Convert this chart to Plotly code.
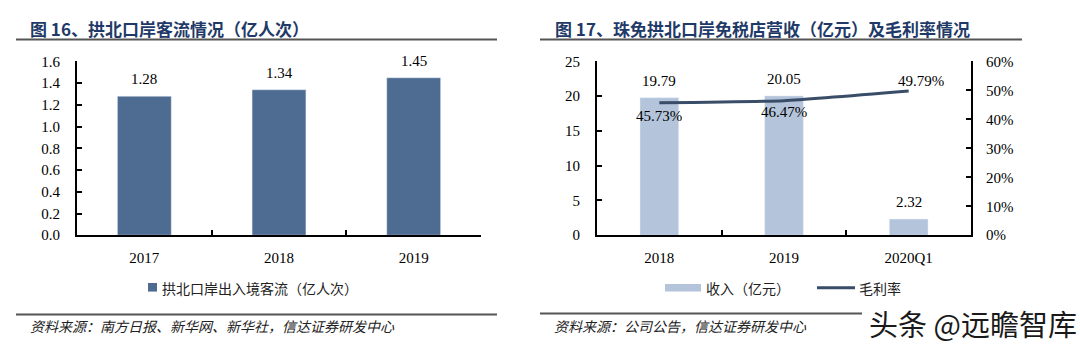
import plotly.graph_objects as go

# ---------------- data ----------------
left_categories = ["2017", "2018", "2019"]
left_values = [1.28, 1.34, 1.45]
left_series_name = "拱北口岸出入境客流（亿人次）"

right_categories = ["2018", "2019", "2020Q1"]
revenue_values = [19.79, 20.05, 2.32]
margin_values = [0.4573, 0.4647, 0.4979]
revenue_name = "收入（亿元）"
margin_name = "毛利率"

left_title = "图 16、拱北口岸客流情况（亿人次）"
right_title = "图 17、珠免拱北口岸免税店营收（亿元）及毛利率情况"
left_source = "资料来源：南方日报、新华网、新华社，信达证券研发中心"
right_source = "资料来源：公司公告，信达证券研发中心"
watermark = "头条 @远瞻智库"

# ---------------- style ----------------
W, H = 1080, 354
def px_x(x):
    return x / W
def px_y(y):
    return (H - y) / H

SERIF = "Liberation Serif, Times New Roman, serif"
CJK = "Noto Sans CJK SC, sans-serif"
TITLE_COLOR = "#1f3a68"
LEFT_BAR = "#4e6b91"
RIGHT_BAR = "#b3c4db"
LINE_COLOR = "#3a4d68"

fig = go.Figure()

fig.add_trace(go.Bar(
    x=left_categories, y=left_values, name=left_series_name,
    marker=dict(color=LEFT_BAR), width=0.40,
    xaxis="x", yaxis="y", showlegend=False,
))
fig.add_trace(go.Bar(
    x=right_categories, y=revenue_values, name=revenue_name,
    marker=dict(color=RIGHT_BAR), width=0.31,
    xaxis="x2", yaxis="y2", showlegend=False,
))
fig.add_trace(go.Scatter(
    x=right_categories, y=margin_values, name=margin_name,
    mode="lines", line=dict(color=LINE_COLOR, width=3, shape="spline", smoothing=0.5),
    xaxis="x2", yaxis="y3", showlegend=False,
))

annotations = []
# bar value labels (left) -- category index positions
for i, v in enumerate(left_values):
    annotations.append(dict(x=i, y=v, xref="x", yref="y", text=f"{v:.2f}",
                            showarrow=False, yshift=17, yanchor="middle",
                            font=dict(family=SERIF, size=15, color="black")))
# bar value labels (right)
for i, v in enumerate(revenue_values):
    annotations.append(dict(x=i, y=v, xref="x2", yref="y2", text=f"{v:.2f}",
                            showarrow=False, yshift=17, yanchor="middle",
                            font=dict(family=SERIF, size=15, color="black")))
# line labels
line_label_shift = [(0, -13), (0, -11), (12, 10)]
for i, (v, (dx, dy)) in enumerate(zip(margin_values, line_label_shift)):
    annotations.append(dict(x=i, y=v, xref="x2", yref="y3", text=f"{v*100:.2f}%",
                            showarrow=False, xshift=dx, yshift=dy, yanchor="middle",
                            font=dict(family=SERIF, size=15, color="black")))

# titles
annotations.append(dict(x=px_x(28), y=px_y(21), xref="paper", yref="paper", text=f"<b>{left_title}</b>",
                        showarrow=False, xanchor="left", yanchor="middle",
                        font=dict(family=CJK, size=17, color=TITLE_COLOR)))
annotations.append(dict(x=px_x(553), y=px_y(21), xref="paper", yref="paper", text=f"<b>{right_title}</b>",
                        showarrow=False, xanchor="left", yanchor="middle",
                        font=dict(family=CJK, size=17, color=TITLE_COLOR)))
# legends
annotations.append(dict(x=px_x(160), y=px_y(293), xref="paper", yref="paper", text=left_series_name,
                        showarrow=False, xanchor="left", yanchor="middle",
                        font=dict(family=CJK, size=14, color="#222")))
annotations.append(dict(x=px_x(704), y=px_y(293), xref="paper", yref="paper", text=revenue_name,
                        showarrow=False, xanchor="left", yanchor="middle",
                        font=dict(family=CJK, size=14, color="#222")))
annotations.append(dict(x=px_x(857), y=px_y(293), xref="paper", yref="paper", text=margin_name,
                        showarrow=False, xanchor="left", yanchor="middle",
                        font=dict(family=CJK, size=14, color="#222")))
# sources
annotations.append(dict(x=px_x(28), y=px_y(333), xref="paper", yref="paper", text=f"<i>{left_source}</i>",
                        showarrow=False, xanchor="left", yanchor="middle",
                        font=dict(family=CJK, size=14, color="#222")))
annotations.append(dict(x=px_x(552), y=px_y(333), xref="paper", yref="paper", text=f"<i>{right_source}</i>",
                        showarrow=False, xanchor="left", yanchor="middle",
                        font=dict(family=CJK, size=14, color="#222")))
# watermark
annotations.append(dict(x=px_x(1079), y=px_y(330), xref="paper", yref="paper", text=watermark,
                        showarrow=False, xanchor="right", yanchor="middle",
                        font=dict(family=CJK, size=29, color="#1a1a1a")))

shapes = [
    # title underlines
    dict(type="line", xref="paper", yref="paper", x0=px_x(16), x1=px_x(497), y0=px_y(33), y1=px_y(33),
         line=dict(color="#555", width=2)),
    dict(type="line", xref="paper", yref="paper", x0=px_x(540), x1=px_x(1022), y0=px_y(33), y1=px_y(33),
         line=dict(color="#555", width=2)),
    # source lines
    dict(type="line", xref="paper", yref="paper", x0=px_x(16), x1=px_x(497), y0=px_y(321), y1=px_y(321),
         line=dict(color="#555", width=2)),
    dict(type="line", xref="paper", yref="paper", x0=px_x(540), x1=px_x(862), y0=px_y(320), y1=px_y(320),
         line=dict(color="#555", width=2)),
    # legend swatches
    dict(type="rect", xref="paper", yref="paper", x0=px_x(148), x1=px_x(157), y0=px_y(297), y1=px_y(288),
         fillcolor=LEFT_BAR, line=dict(width=0)),
    dict(type="rect", xref="paper", yref="paper", x0=px_x(665), x1=px_x(701), y0=px_y(297), y1=px_y(289),
         fillcolor=RIGHT_BAR, line=dict(width=0)),
    dict(type="line", xref="paper", yref="paper", x0=px_x(817), x1=px_x(855), y0=px_y(293), y1=px_y(293),
         line=dict(color=LINE_COLOR, width=3)),
]

axis_common = dict(showline=True, linecolor="black", linewidth=2, ticks="inside", ticklen=5,
                   tickwidth=2, tickcolor="black", showgrid=False, zeroline=False,
                   tickfont=dict(family=SERIF, size=15, color="black"))

y_dom = [px_y(238), px_y(56)]

fig.update_layout(
    width=W, height=H, margin=dict(l=0, r=0, t=0, b=0),
    paper_bgcolor="white", plot_bgcolor="white",
    showlegend=False,
    xaxis=dict(domain=[px_x(77), px_x(481)], anchor="y", type="category",
               range=[-0.5, 2.5], tickson="boundaries", ticklabelstandoff=8, **axis_common),
    yaxis=dict(domain=y_dom, anchor="x", range=[0, 1.6], dtick=0.2, tickformat=".1f",
               ticklabelstandoff=12, **axis_common),
    xaxis2=dict(domain=[px_x(597), px_x(971)], anchor="y2", type="category",
                range=[-0.5, 2.5], tickson="boundaries", ticklabelstandoff=8, **axis_common),
    yaxis2=dict(domain=y_dom, anchor="x2", range=[0, 25], dtick=5,
                ticklabelstandoff=12, **axis_common),
    yaxis3=dict(overlaying="y2", anchor="x2", side="right", range=[0, 0.6], dtick=0.1,
                tickformat=".0%", ticklabelstandoff=10, **axis_common),
    annotations=annotations, shapes=shapes,
)

fig.write_html("out.html")
